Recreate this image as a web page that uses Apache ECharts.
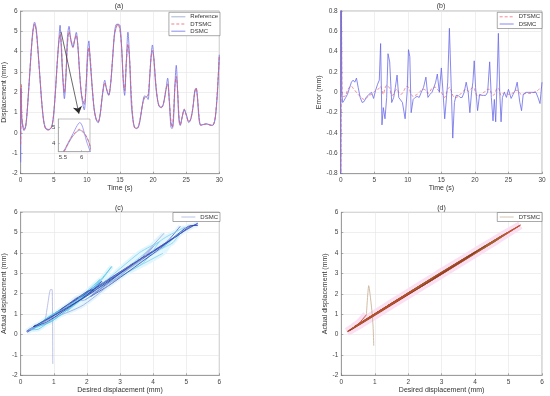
<!DOCTYPE html>
<html><head><meta charset="utf-8">
<script src="https://cdn.jsdelivr.net/npm/echarts@6/dist/echarts.min.js"></script>
<style>html,body{margin:0;padding:0;background:#fff}#c{width:550px;height:396px}</style>
</head><body><div id="c"></div>
<script>
// ---- data ----
const time = [
 0,0.04,0.08,0.12,0.16,0.3,0.5,0.75,1,1.3,
 1.6,1.85,2.1,2.35,2.6,2.9,3.2,3.5,3.8,4.2,
 4.6,4.9,5.2,5.5,5.75,5.95,6.15,6.35,6.6,6.85,
 7.05,7.3,7.6,7.9,8.15,8.4,8.65,8.9,9.2,9.6,
 9.9,10.1,10.3,10.5,10.8,11.1,11.4,11.7,12,12.35,
 12.7,13,13.3,13.6,13.9,14.15,14.4,14.7,15,15.25,
 15.5,15.7,15.95,16.2,16.45,16.7,16.95,17.2,17.5,17.8,
 18.1,18.4,18.7,19,19.25,19.5,19.7,19.9,20.1,20.4,
 20.7,21,21.3,21.6,21.9,22.2,22.45,22.7,22.9,23.1,
 23.3,23.5,23.7,23.9,24.1,24.4,24.7,25,25.4,25.7,
 26,26.3,26.5,26.7,26.95,27.2,27.6,28,28.4,28.8,
 29.1,29.4,29.7,30];
const reference = [
 0.97,0.95,0.90,0.82,0.75,0.45,0.20,0.35,1.15,2.55,
 4.00,4.95,5.35,5.00,4.10,2.80,1.50,0.60,0.25,0.18,
 0.25,0.70,1.80,3.30,4.40,4.82,4.30,2.90,1.95,2.90,
 4.30,4.95,4.60,4.25,4.55,4.78,4.25,3.00,1.90,1.40,
 2.40,3.60,4.18,3.70,2.30,1.20,0.70,0.55,0.90,1.85,
 2.45,2.15,1.87,2.45,3.70,4.75,5.15,5.35,5.05,4.20,
 2.70,2.10,3.40,4.33,3.60,1.90,0.75,0.30,0.25,0.35,
 0.80,1.40,1.72,1.78,1.85,2.80,3.70,4.02,3.70,2.50,
 1.60,1.30,1.28,1.50,2.05,2.40,1.60,0.55,0.30,1.00,
 2.30,2.75,2.10,0.90,0.42,0.80,1.18,0.90,0.57,0.70,
 1.20,2.00,2.20,1.80,0.80,0.40,0.42,0.45,0.42,0.38,
 0.40,0.80,2.00,3.75];
const errorDSMC = [
 -2.41,1.25,1.30,0.68,0.00,-0.10,-0.08,-0.05,-0.02,0.04,
 0.10,0.12,0.10,0.14,0.05,-0.05,-0.10,-0.09,-0.05,-0.02,
 0.00,-0.06,0.02,0.08,0.12,0.48,-0.32,-0.15,-0.26,-0.05,
 0.38,0.30,-0.10,-0.05,0.05,0.17,-0.05,-0.05,-0.10,-0.26,
 0.00,0.42,0.35,-0.20,-0.07,-0.05,-0.04,-0.05,0.00,0.05,
 0.15,-0.05,-0.02,0.00,0.05,0.10,0.18,0.00,0.24,0.00,
 -0.26,-0.25,0.10,0.63,0.10,-0.45,-0.10,-0.03,-0.03,-0.05,
 -0.05,0.00,0.10,0.00,-0.20,0.00,0.10,0.31,0.05,-0.18,
 -0.02,-0.03,-0.03,-0.03,0.00,0.30,-0.05,-0.28,-0.07,-0.29,
 0.10,0.58,0.00,-0.29,-0.05,0.00,-0.05,0.03,-0.06,-0.02,
 0.02,0.10,0.00,-0.10,-0.18,-0.02,0.00,0.00,0.00,0.00,
 0.00,-0.05,-0.11,0.10];
const errorDTSMC = [
 -1.52,-0.55,0.50,1.58,0.22,-0.04,-0.04,-0.03,0.02,0.05,
 0.06,0.04,0.02,0.00,-0.02,-0.04,-0.06,-0.07,-0.06,-0.03,
 -0.02,0.00,0.02,0.03,0.04,0.06,0.02,-0.02,0.04,0.07,
 0.06,0.04,-0.03,-0.02,0.02,0.03,0.00,-0.02,-0.01,0.04,
 0.06,0.05,0.02,-0.02,-0.04,-0.03,-0.02,0.00,0.02,0.03,
 0.02,-0.01,0.01,0.04,0.05,0.05,0.03,0.01,0.00,-0.03,
 -0.05,-0.02,0.03,0.05,0.02,-0.03,-0.05,-0.05,-0.04,-0.02,
 0.00,0.02,0.03,0.01,0.02,0.04,0.05,0.04,0.00,-0.04,
 -0.03,-0.02,0.00,0.01,0.03,0.03,-0.01,-0.03,-0.02,0.01,
 0.04,0.04,0.01,-0.03,-0.02,0.00,-0.01,-0.02,-0.02,0.00,
 0.02,0.02,0.01,-0.01,-0.02,-0.02,-0.01,-0.01,-0.01,0.00,
 0.01,0.02,0.04,0.05];
// time breaks used to colour the phase-plot segments
const segBreaks = [0, 0.16, 6, 11, 16, 21, 26, 30];
// inset zoom window and arrow annotation (data space)
const insetX = [5.38, 6.22], insetY = [3.48, 5.52];
const insetXTicks = [5.5, 6], insetYTicks = [4, 5];
const arrowFrom = [6.1, 4.98], arrowTo = [8.8, 0.95];

// ---- derived (actual = desired + error) ----
const actualDSMC = reference.map((r, i) => r + errorDSMC[i]);
const actualDTSMC = reference.map((r, i) => r + errorDTSMC[i]);
const pairs = (xs, ys) => xs.map((x, i) => [x, ys[i]]);
function seg(xs, ys, t0, t1) {
  const out = [];
  for (let i = 0; i < time.length; i++) if (time[i] >= t0 - 1e-9 && time[i] <= t1 + 1e-9) out.push([xs[i], ys[i]]);
  return out;
}

// ---- styles ----
const FONT = 'Liberation Sans, Arial, sans-serif';
const cSegColors = ['#aab2e2', '#4b5cc6', '#7dd3ef', '#3443ad', '#9aa4e0', '#5cc6ea', '#2f3c9e'];
const dSegColors = ['#c9b49c', '#b8452c', '#6e7f2c', '#c4502e', '#8c3c22', '#a06a30', '#b84a2a'];
const C_REF = '#8f9fc8', C_DSMC = '#6f6fea', C_DTSMC = '#ee5a6e';

function xAx(g, min, max, interval, name) {
  return {type: 'value', gridIndex: g, min, max, interval, name, nameLocation: 'middle', nameGap: 10,
    nameTextStyle: {fontSize: 7, color: '#333', fontFamily: FONT},
    axisLine: {onZero: false, lineStyle: {color: '#777', width: 0.6}},
    axisTick: {show: true, inside: true, length: 2, lineStyle: {color: '#777', width: 0.6}},
    axisLabel: {fontSize: 6.5, color: '#444', margin: 3, fontFamily: FONT},
    splitLine: {show: true, lineStyle: {color: '#e4e4e4', width: 0.6}}};
}
function yAx(g, min, max, interval, name, gap, fmt) {
  const a = xAx(g, min, max, interval, name);
  a.nameGap = gap;
  if (fmt) a.axisLabel.formatter = fmt;
  return a;
}
const errFmt = v => Math.abs(v) < 1e-9 ? '0' : v.toFixed(1);

const grids = [
  {left: 18.3, top: 11, width: 201, height: 162.7},
  {left: 340.7, top: 11, width: 201.3, height: 162.7},
  {left: 18.3, top: 212, width: 201, height: 163.3},
  {left: 341.3, top: 212.3, width: 200.7, height: 163},
  {left: 58.3, top: 119, width: 31.7, height: 32.7, z: 10, backgroundColor: '#fff', borderColor: '#999'}
].map(g => Object.assign({show: true, borderColor: '#888', borderWidth: 0.6, containLabel: false}, g));

const xAxes = [
  xAx(0, 0, 30, 5, 'Time (s)'),
  xAx(1, 0, 30, 5, 'Time (s)'),
  xAx(2, 0, 6, 1, 'Desired displacement (mm)'),
  xAx(3, 0, 6, 1, 'Desired displacement (mm)'),
  {type: 'value', gridIndex: 4, min: insetX[0], max: insetX[1], z: 12,
    axisLine: {onZero: false, lineStyle: {color: '#999', width: 0.6}},
    axisTick: {show: true, inside: true, length: 1.5, customValues: insetXTicks, lineStyle: {color: '#999', width: 0.6}},
    axisLabel: {fontSize: 6, color: '#444', margin: 3, customValues: insetXTicks, fontFamily: FONT},
    splitLine: {show: false}}
];
const yAxes = [
  yAx(0, -2, 6, 1, 'Displacement (mm)', 7.5),
  yAx(1, -0.8, 0.8, 0.2, 'Error (mm)', 14, errFmt),
  yAx(2, -2, 6, 1, 'Actual displacement (mm)', 7.5),
  yAx(3, -2, 6, 1, 'Actual displacement (mm)', 8.5),
  {type: 'value', gridIndex: 4, min: insetY[0], max: insetY[1], z: 12,
    axisLine: {onZero: false, lineStyle: {color: '#999', width: 0.6}},
    axisTick: {show: true, inside: true, length: 1.5, customValues: insetYTicks, lineStyle: {color: '#999', width: 0.6}},
    axisLabel: {fontSize: 6, color: '#444', margin: 3, customValues: insetYTicks, fontFamily: FONT},
    splitLine: {show: false}}
];

function line(name, g, data, color, opts) {
  return Object.assign({type: 'line', name, xAxisIndex: g, yAxisIndex: g, data, showSymbol: false, symbol: 'none',
    smooth: 0.3, lineStyle: {color, width: 0.8}, itemStyle: {color}, silent: true}, opts || {});
}

const series = [];
// (a)
series.push(line('Reference', 0, pairs(time, reference), C_REF));
series.push(line('DSMC', 0, pairs(time, actualDSMC), C_DSMC));
series.push(line('DTSMC', 0, pairs(time, actualDTSMC), C_DTSMC, {lineStyle: {color: C_DTSMC, width: 0.8, type: [3, 2]}}));
// arrow annotation pointing at the inset
series.push({type: 'lines', coordinateSystem: 'cartesian2d', xAxisIndex: 0, yAxisIndex: 0, z: 6, silent: true,
  symbol: ['none', 'arrow'], symbolSize: 7,
  lineStyle: {color: '#2a2a2a', width: 0.7, opacity: 1},
  data: [{coords: [arrowFrom, arrowTo]}]});
// (b)
series.push(line('DTSMC', 1, pairs(time, errorDTSMC), '#f06a78', {lineStyle: {color: '#f06a78', width: 0.8, type: [3, 2]}}));
series.push(line('DSMC', 1, pairs(time, errorDSMC), '#6a6ae8', {smooth: false}));
// (c)
series.push(line('', 2, seg(reference, actualDSMC, segBreaks[1], segBreaks[segBreaks.length - 1]), '#e6f7fd', {lineStyle: {color: '#e3f6fd', width: 4.5}, smooth: 0.2}));
for (let k = 0; k < segBreaks.length - 1; k++) {
  series.push(line('DSMC', 2, seg(reference, actualDSMC, segBreaks[k], segBreaks[k + 1]), cSegColors[k], {smooth: 0.2, lineStyle: {color: cSegColors[k], width: 0.8}}));
}
// (d)
series.push(line('', 3, seg(reference, actualDTSMC, segBreaks[1], segBreaks[segBreaks.length - 1]), '#fbe0f3', {lineStyle: {color: '#fbdff3', width: 8}, smooth: 0.2}));
for (let k = 0; k < segBreaks.length - 1; k++) {
  series.push(line('DTSMC', 3, seg(reference, actualDTSMC, segBreaks[k], segBreaks[k + 1]), dSegColors[k], {smooth: 0.2, lineStyle: {color: dSegColors[k], width: 0.9}}));
}
// inset
series.push(line('', 4, pairs(time, reference), C_REF, {z: 12}));
series.push(line('', 4, pairs(time, actualDSMC), '#8a8af2', {z: 12}));
series.push(line('', 4, pairs(time, actualDTSMC), C_DTSMC, {z: 12, lineStyle: {color: C_DTSMC, width: 0.8, type: [3, 2]}}));

const noSym = {color: 'rgba(0,0,0,0)', borderWidth: 0, opacity: 0};
const legItem = (name, color, type) => ({name, itemStyle: noSym, lineStyle: {color, type, width: 0.8}});
const legBase = {orient: 'vertical', backgroundColor: '#fff', borderColor: '#555', borderWidth: 0.5,
  padding: [1.5, 2, 1.5, 2], itemWidth: 14, itemHeight: 5, itemGap: 1.2, selectedMode: false,
  itemStyle: noSym,
  textStyle: {fontSize: 6, color: '#333', fontFamily: FONT, lineHeight: 6}};
const legends = [
  Object.assign({}, legBase, {right: 330, top: 12.3, data: [
    legItem('Reference', C_REF, 'solid'), legItem('DTSMC', C_DTSMC, [3, 2]), legItem('DSMC', C_DSMC, 'solid')]}),
  Object.assign({}, legBase, {right: 8, top: 12.3, data: [
    legItem('DTSMC', '#f06a78', [3, 2]), legItem('DSMC', '#6a6ae8', 'solid')]}),
  Object.assign({}, legBase, {right: 330, top: 212.5, padding: [1.5, 2, 1.5, 8], data: [
    legItem('DSMC', '#aab2e2', 'solid')]}),
  Object.assign({}, legBase, {right: 8, top: 212.5, data: [
    legItem('DTSMC', '#c9b49c', 'solid')]})
];

const titles = [['(a)', 119, 6.5], ['(b)', 441, 6.5], ['(c)', 119, 208.5], ['(d)', 441.5, 208.5]];

const chart = echarts.init(document.getElementById('c'), null, {renderer: 'canvas'});
chart.setOption({
  animation: false,
  textStyle: {fontFamily: FONT},
  grid: grids, xAxis: xAxes, yAxis: yAxes, series, legend: legends,
  graphic: titles.map(t => ({type: 'text', x: t[1], y: t[2], z: 20,
    style: {text: t[0], fontSize: 7, fill: '#333', align: 'center', verticalAlign: 'middle', fontFamily: FONT}}))
});
</script></body></html>
